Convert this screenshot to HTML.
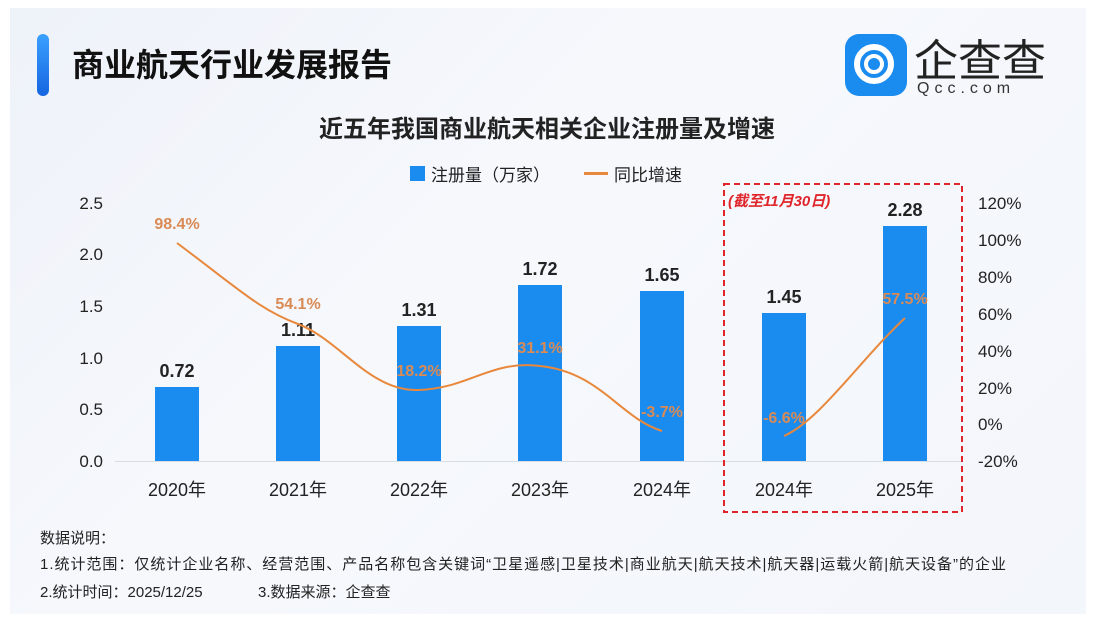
<!DOCTYPE html>
<html><head><meta charset="utf-8"><style>
body{margin:0;width:1094px;height:622px;background:#fff;overflow:hidden;font-family:"Liberation Sans","Noto Sans CJK SC",sans-serif}
.card{position:absolute;left:10px;top:8px;width:1076px;height:606px;background:linear-gradient(135deg,#eef2f9,#f6f8fc 40%,#f3f6fb)}
</style></head><body>
<div class="card"></div>
<svg width="1094" height="622" style="position:absolute;left:0;top:0" font-family="Liberation Sans, Noto Sans CJK SC, sans-serif">
<defs><linearGradient id="g" x1="0" y1="0" x2="0" y2="1"><stop offset="0" stop-color="#3aa0ff"/><stop offset="1" stop-color="#1565e0"/></linearGradient></defs>
<rect x="37" y="34" width="12" height="62" rx="6" fill="url(#g)"/>
<text x="72" y="76" font-size="32" font-weight="bold" fill="#111">商业航天行业发展报告</text>
<rect x="845" y="34" width="62" height="62" rx="14" fill="#1a8cf0"/>
<circle cx="874" cy="64" r="17" fill="none" stroke="#fff" stroke-width="6"/>
<circle cx="874" cy="64" r="8" fill="none" stroke="#fff" stroke-width="4"/>
<text x="914" y="76" font-size="44" fill="#222">企查查</text>
<text x="917" y="93" font-size="16" fill="#333" letter-spacing="5">Qcc.com</text>
<text x="547" y="137" font-size="24" font-weight="bold" fill="#222" text-anchor="middle">近五年我国商业航天相关企业注册量及增速</text>
<rect x="410" y="166" width="15" height="15" fill="#1a8cf0"/>
<text x="431" y="181" font-size="17" fill="#222">注册量（万家）</text>
<rect x="584" y="172" width="24" height="3" fill="#e8883c"/>
<text x="614" y="181" font-size="17" fill="#222">同比增速</text>
<g font-size="17" fill="#222" text-anchor="end">
<text x="103" y="209">2.5</text><text x="103" y="260">2.0</text><text x="103" y="312">1.5</text><text x="103" y="364">1.0</text><text x="103" y="415">0.5</text><text x="103" y="467">0.0</text>
</g>
<g font-size="17" fill="#222">
<text x="978" y="209">120%</text><text x="978" y="246">100%</text><text x="978" y="283">80%</text><text x="978" y="320">60%</text><text x="978" y="357">40%</text><text x="978" y="394">20%</text><text x="978" y="430">0%</text><text x="978" y="467">-20%</text>
</g>
<line x1="115" y1="461.5" x2="962" y2="461.5" stroke="#d8dde4"/>
<g fill="#1a8cf0">
<rect x="155" y="387" width="44" height="74"/>
<rect x="276" y="346" width="44" height="115"/>
<rect x="397" y="326" width="44" height="135"/>
<rect x="518" y="285" width="44" height="176"/>
<rect x="640" y="291" width="44" height="170"/>
<rect x="762" y="313" width="44" height="148"/>
<rect x="883" y="226" width="44" height="235"/>
</g>
<g font-size="18" fill="#222" text-anchor="middle" font-weight="bold">
<text x="177" y="377">0.72</text><text x="298" y="336">1.11</text><text x="419" y="316">1.31</text><text x="540" y="275">1.72</text><text x="662" y="281">1.65</text><text x="784" y="303">1.45</text><text x="905" y="216">2.28</text>
</g>
<path d="M177,243 C240,290 260,310 298,324 C340,340 370,392 419,390 C470,388 490,360 540,366 C600,372 620,418 662,431 M784,436 C820,420 860,360 905,318" fill="none" stroke="#e8883c" stroke-width="2"/>
<g font-size="16" fill="#d98a55" text-anchor="middle" font-weight="bold">
<text x="177" y="229">98.4%</text><text x="298" y="309">54.1%</text><text x="419" y="376">18.2%</text><text x="540" y="353">31.1%</text><text x="662" y="417">-3.7%</text><text x="784" y="423">-6.6%</text><text x="905" y="304">57.5%</text>
</g>
<g font-size="18" fill="#222" text-anchor="middle">
<text x="177" y="496">2020年</text><text x="298" y="496">2021年</text><text x="419" y="496">2022年</text><text x="540" y="496">2023年</text><text x="662" y="496">2024年</text><text x="784" y="496">2024年</text><text x="905" y="496">2025年</text>
</g>
<rect x="724" y="184" width="238" height="328" fill="none" stroke="#e0262b" stroke-width="2" stroke-dasharray="6,4"/>
<text x="728" y="206" font-size="15" font-weight="bold" font-style="italic" fill="#e0262b">(截至11月30日)</text>
<g font-size="15" fill="#222">
<text x="40" y="543">数据说明：</text>
<text x="40" y="569" textLength="966" lengthAdjust="spacing">1.统计范围：仅统计企业名称、经营范围、产品名称包含关键词“卫星遥感|卫星技术|商业航天|航天技术|航天器|运载火箭|航天设备”的企业</text>
<text x="40" y="597">2.统计时间：2025/12/25</text>
<text x="258" y="597">3.数据来源：企查查</text>
</g>
</svg>
</body></html>
